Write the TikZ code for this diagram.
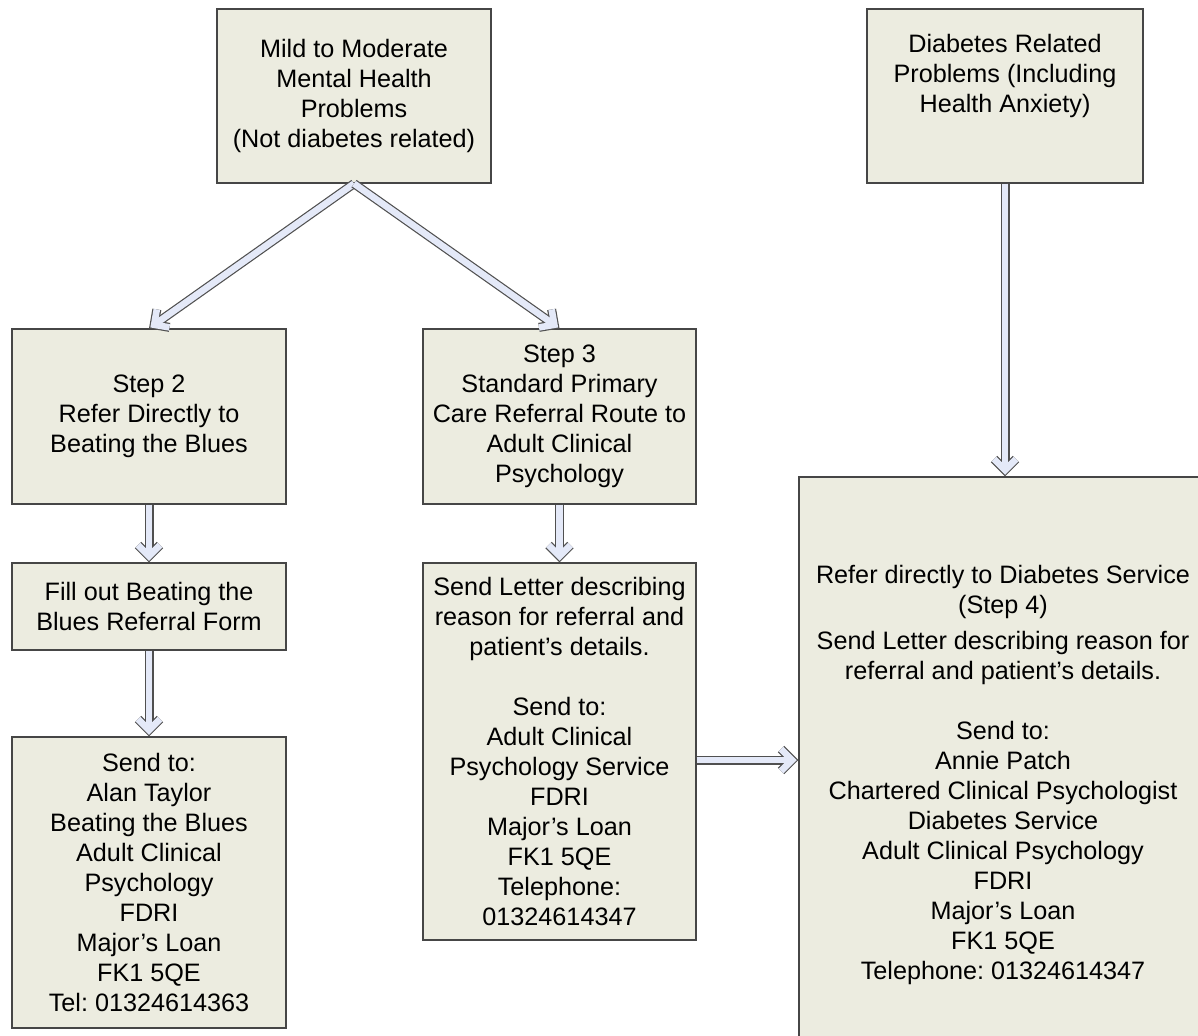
\documentclass[tikz,border=0pt]{standalone}
\usepackage{fontspec}
\setmainfont{Liberation Sans}
\usetikzlibrary{arrows.meta}
\definecolor{boxfill}{RGB}{236,236,224}
\definecolor{boxline}{RGB}{70,70,70}
\definecolor{arrowfill}{RGB}{228,233,248}
\definecolor{arrowline}{RGB}{80,80,80}

\begin{document}
\begin{tikzpicture}[x=0.5pt,y=-0.5pt]
\useasboundingbox (0,0) rectangle (1198,1035);
\clip (0,0) rectangle (1198,1035);
\tikzset{Box/.style={draw=boxline,fill=boxfill,line width=0.6pt,inner sep=0pt,align=center,
  font=\fontsize{12.6}{15}\selectfont\frenchspacing}}
\node[Box,minimum width=137pt,minimum height=87pt] (mild) at (354,96)
  {Mild to Moderate\\Mental Health\\Problems\\(Not diabetes related)};
\node[Box,minimum width=138pt,minimum height=87pt] (diab) at (1005,96)
  {Diabetes Related\\Problems (Including\\Health Anxiety)\\[8pt]~};
\node[Box,minimum width=137pt,minimum height=87.5pt] (step2) at (149,416.5)
  {Step 2\\Refer Directly to\\Beating the Blues};
\node[Box,minimum width=136.5pt,minimum height=87.5pt] (step3) at (559.5,416.5)
  {Step 3\\Standard Primary\\Care Referral Route to\\Adult Clinical\\Psychology};
\node[Box,minimum width=137pt,minimum height=43.5pt] (form) at (149,606.5)
  {Fill out Beating the\\Blues Referral Form};
\node[Box,minimum width=137pt,minimum height=145.5pt] (alan) at (149,882.5)
  {Send to:\\Alan Taylor\\Beating the Blues\\Adult Clinical\\Psychology\\FDRI\\Major’s Loan\\FK1 5QE\\Tel: 01324614363};
\node[Box,minimum width=136.5pt,minimum height=188.5pt] (letter) at (559.5,751.5)
  {Send Letter describing\\reason for referral and\\patient’s details.\\~\\Send to:\\Adult Clinical\\Psychology Service\\FDRI\\Major’s Loan\\FK1 5QE\\Telephone:\\01324614347};
\node[Box,minimum width=204pt,minimum height=298pt] (diabserv) at (1003,775)
  {Refer directly to Diabetes Service\\(Step 4)\\[3pt] Send Letter describing reason for\\referral and patient’s details.\\~\\Send to:\\Annie Patch\\Chartered Clinical Psychologist\\Diabetes Service\\Adult Clinical Psychology\\FDRI\\Major’s Loan\\FK1 5QE\\Telephone: 01324614347};
\tikzset{Flow/.style={draw=arrowfill,line width=3.3pt,
  -{Straight Barb[length=5.5pt,width=11pt,line width=3.3pt,sep=0.83pt]},
  preaction={draw=arrowline,line width=4.5pt,-{Straight Barb[length=5.5pt,width=11pt,line width=4.5pt]}}}}
\draw[Flow] (mild.south) -- (step2.north);
\draw[Flow] (mild.south) -- (step3.north);
\draw[Flow] (step2.south) -- (form.north);
\draw[Flow] (form.south) -- (alan.north);
\draw[Flow] (step3.south) -- (letter.north);
\draw[Flow] (diab.south) -- (diabserv.north -| diab.south);
\draw[Flow] ([yshift=-4.25pt]letter.east) -- ([yshift=-4.25pt]letter.east -| diabserv.west);
\end{tikzpicture}
\end{document}
